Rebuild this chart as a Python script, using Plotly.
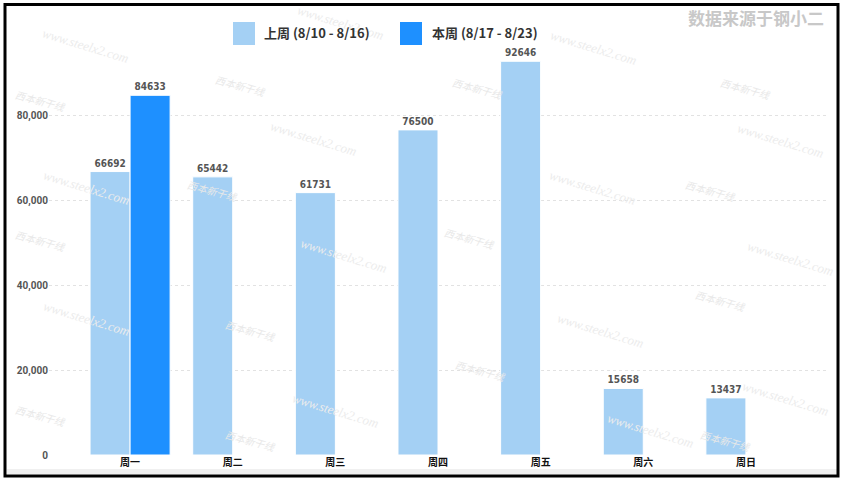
import plotly.graph_objects as go

# 数据
days = ['周一', '周二', '周三', '周四', '周五', '周六', '周日']
last_week = [66692, 65442, 61731, 76500, 92646, 15658, 13437]
this_week = [84633, None, None, None, None, None, None]
last_week_name = '上周 (8/10 - 8/16)'
this_week_name = '本周 (8/17 - 8/23)'
y_ticks = [0, 20000, 40000, 60000, 80000]

W, H = 846, 484
L, R, T, B = 49, 19, 47, 29
PW, PH = W - L - R, H - T - B


def px(x):
    return (x - L) / PW


def py(y):
    return (H - B - y) / PH


fig = go.Figure()
fig.add_trace(go.Bar(
    x=days, y=last_week, name=last_week_name,
    marker=dict(color='#a4d0f4', line=dict(color='white', width=1)),
    text=last_week, textposition='outside', cliponaxis=False,
    textfont=dict(size=10, color='#555555', family='DejaVu Sans Condensed, Roboto', weight='bold'),
))
fig.add_trace(go.Bar(
    x=days, y=this_week, name=this_week_name,
    marker=dict(color='#1e90ff', line=dict(color='white', width=1)),
    text=this_week, textposition='outside', cliponaxis=False,
    textfont=dict(size=10, color='#555555', family='DejaVu Sans Condensed, Roboto', weight='bold'),
))

# 水印
wm_text = [(85, 45), (593, 47), (313, 138), (780, 140), (86, 187), (592, 187),
           (343, 256), (790, 258), (86, 318), (600, 330), (335, 410), (785, 398),
           (650, 430), (340, 22)]
wm_logo = [(240, 85), (478, 88), (745, 88), (212, 190), (470, 238), (710, 190),
           (40, 100), (40, 240), (250, 330), (720, 300), (480, 370), (250, 440),
           (725, 440), (40, 415)]
anns = []
for x, y in wm_text:
    anns.append(dict(x=px(x), y=py(y), xref='paper', yref='paper', text='<i>www.steelx2.com</i>',
                     showarrow=False, textangle=17,
                     font=dict(size=13, color='#ececec', family='Liberation Serif'),
                     xanchor='center', yanchor='middle'))
for x, y in wm_logo:
    anns.append(dict(x=px(x), y=py(y), xref='paper', yref='paper', text='<i>西本新干线</i>',
                     showarrow=False, textangle=15,
                     font=dict(size=10, color='#e8e8e8', family='Noto Sans CJK SC'),
                     xanchor='center', yanchor='middle'))

# 图例
legend_font = dict(size=13, color='#333333', family='Noto Sans CJK SC')
anns.append(dict(x=px(262), y=py(33), xref='paper', yref='paper', text='<b>' + last_week_name + '</b>',
                 showarrow=False, xanchor='left', yanchor='middle', font=legend_font))
anns.append(dict(x=px(430), y=py(33), xref='paper', yref='paper', text='<b>' + this_week_name + '</b>',
                 showarrow=False, xanchor='left', yanchor='middle', font=legend_font))
anns.append(dict(x=px(826), y=py(17), xref='paper', yref='paper', text='<b>数据来源于钢小二</b>',
                 showarrow=False, xanchor='right', yanchor='middle',
                 font=dict(size=17, color='#c8c8c8', family='Noto Sans CJK SC')))

shapes = [
    dict(type='rect', xref='paper', yref='paper', x0=px(233), x1=px(255), y0=py(22), y1=py(45),
         fillcolor='#a4d0f4', line=dict(width=0)),
    dict(type='rect', xref='paper', yref='paper', x0=px(400), x1=px(422), y0=py(22), y1=py(45),
         fillcolor='#1e90ff', line=dict(width=0)),
    dict(type='rect', xref='paper', yref='paper', x0=px(7), x1=px(837), y0=py(469), y1=py(474),
         fillcolor='#f0f0f0', line=dict(width=0), layer='below'),
    dict(type='rect', xref='paper', yref='paper', x0=px(5), x1=px(838), y0=py(4.5), y1=py(476),
         line=dict(color='black', width=3)),
]

fig.update_layout(
    width=W, height=H,
    margin=dict(l=L, r=R, t=T, b=B),
    paper_bgcolor='white', plot_bgcolor='white',
    barmode='group', bargap=0.22, bargroupgap=0,
    showlegend=False,
    annotations=anns, shapes=shapes,
    font=dict(family='Noto Sans CJK SC'),
)
fig.update_xaxes(
    range=[-0.79, 6.79], showgrid=False, showline=False, ticks='',
    tickfont=dict(size=10, color='#111111', family='Noto Sans CJK SC', weight='bold'),
)
fig.update_yaxes(
    range=[0, 96000], tickvals=y_ticks, tickformat=',',
    showgrid=True, gridcolor='#e2e2e2', griddash='dot', gridwidth=1,
    zeroline=False, showline=False, ticks='',
    tickfont=dict(size=10, color='#555555', family='Roboto', weight='bold'),
)

fig.write_html("out.html", config={'displayModeBar': False},
               post_script="document.body.style.margin='0';")
